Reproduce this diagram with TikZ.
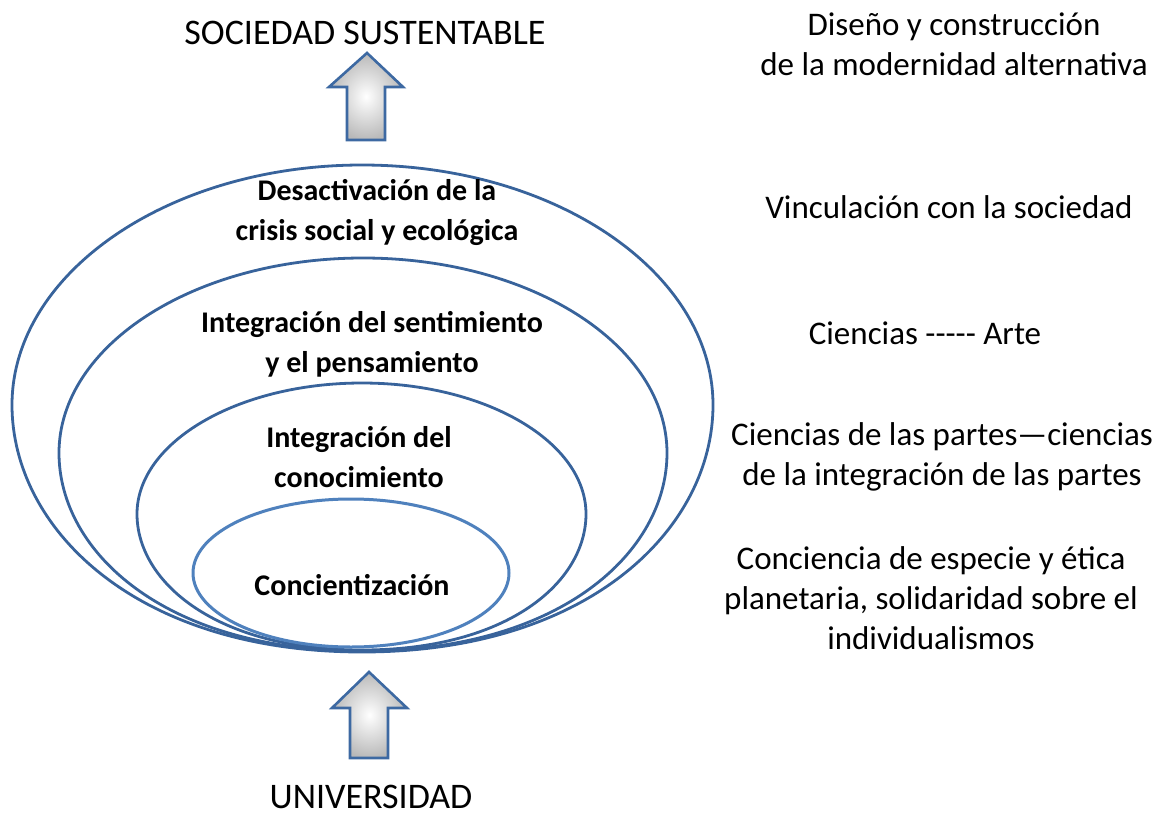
\documentclass[tikz,border=0pt]{standalone}
\usepackage{fontspec}
\setmainfont{Carlito}
\definecolor{eggblue}{HTML}{38639B}
\definecolor{innerblue}{HTML}{4F81BD}
\definecolor{arrowblue}{HTML}{3D69A2}
\begin{document}
\begin{tikzpicture}[x=1pt,y=-1pt,
  eggline/.style={draw=eggblue,line width=2.8pt},
  innerline/.style={draw=innerblue,line width=3pt},
  blockarrow/.style={draw=arrowblue,line width=2.6pt,line join=miter,inner color=white,outer color=gray!55},
  sidetext/.style={font=\fontsize{33}{40}\selectfont,align=center,inner sep=0pt},
  eggtext/.style={font=\fontsize{30}{40}\selectfont\bfseries,align=center,inner sep=0pt},
  titletext/.style={font=\fontsize{36}{40}\selectfont,inner sep=0pt}]
\useasboundingbox (0,0) rectangle (1162,816);
% nested egg shapes
\path[eggline] (362,165) .. controls (169,165) and (12,273) .. (12,405)
  .. controls (12,528) and (135,652) .. (362,652)
  .. controls (590,652) and (713,528) .. (713,405)
  .. controls (713,273) and (556,165) .. cycle;
\path[eggline] (363,258) .. controls (195,258) and (59,345) .. (59,453)
  .. controls (59,552) and (165,651) .. (363,651)
  .. controls (561,651) and (667,552) .. (667,453)
  .. controls (667,345) and (531,258) .. cycle;
\path[eggline] (362,383) .. controls (238,383) and (137,442) .. (137,514)
  .. controls (137,582) and (216,650) .. (362,650)
  .. controls (508,650) and (586,582) .. (586,514)
  .. controls (586,442) and (486,383) .. cycle;
\path[innerline,fill=white] (351,573) ellipse [x radius=158,y radius=74];
% block arrows
\shadedraw[blockarrow] (367,53) -- (403,87) -- (385,87) -- (385,140) -- (347,140) -- (347,87) -- (329,87) -- cycle;
\shadedraw[blockarrow] (369,672) -- (407,708) -- (388,708) -- (388,758) -- (350,758) -- (350,708) -- (332,708) -- cycle;
% titles
\node[titletext] (top) at (365,33) {SOCIEDAD SUSTENTABLE};
\node[titletext] (bottom) at (371,797) {UNIVERSIDAD};
% egg labels
\node[eggtext] (l4) at (377,212) {Desactivación de la\\crisis social y ecológica};
\node[eggtext] (l3) at (372,344) {Integración del sentimiento\\y el pensamiento};
\node[eggtext] (l2) at (359,457) {Integración del\\conocimiento};
\node[eggtext] (l1) at (352,585) {Concientización};
% side labels
\node[sidetext] (r5) at (954,44) {Diseño y construcción\\de la modernidad alternativa};
\node[sidetext] (r4) at (949,207) {Vinculación con la sociedad};
\node[sidetext] (r3) at (925,333) {Ciencias {-}{-}{-}{-}{-} Arte};
\node[sidetext] (r2) at (942,457) {Ciencias de las partes—ciencias\\de la integración de las partes};
\node[sidetext] (r1) at (931,598) {Conciencia de especie y ética\\planetaria, solidaridad sobre el\\individualismos};
\end{tikzpicture}
\end{document}
